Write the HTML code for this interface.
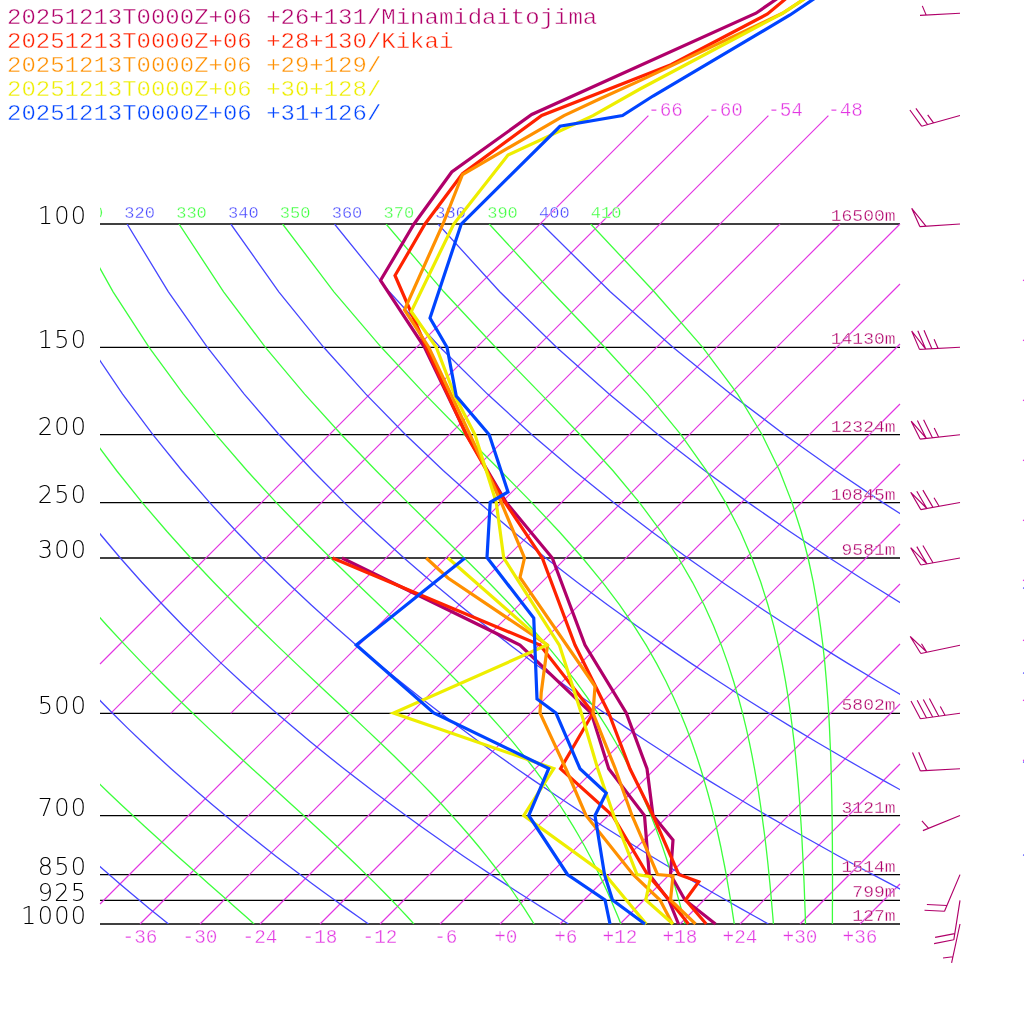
<!DOCTYPE html>
<html><head><meta charset="utf-8"><title>Skew-T</title>
<style>
html,body{margin:0;padding:0;background:#fff;}
svg{display:block}
text{font-family:"Liberation Mono",monospace;}
.lg{font-size:24px;stroke:#fff;stroke-width:0.45px;}
.pl{font-family:"DejaVu Sans Light","DejaVu Sans","Liberation Sans",sans-serif;font-weight:200;font-size:24px;fill:#000;letter-spacing:1.3px}
.tl{font-size:19.4px;fill:#e236e2;stroke:#fff;stroke-width:0.4px;}
.th{font-size:17px;stroke:#fff;stroke-width:0.35px;}
.ht{font-size:18px;fill:#b0006a;stroke:#fff;stroke-width:0.35px;}
</style></head><body>
<svg width="1024" height="1024" viewBox="0 0 1024 1024" style="will-change:transform">
<rect width="1024" height="1024" fill="#fff"/>
<clipPath id="c2"><rect x="100" y="190" width="800" height="40"/></clipPath>
<clipPath id="c"><rect x="100" y="224" width="800" height="700"/></clipPath>
<line x1="100" y1="224.0" x2="900" y2="224.0" stroke="#000" stroke-width="1.3"/>
<line x1="100" y1="347.3" x2="900" y2="347.3" stroke="#000" stroke-width="1.3"/>
<line x1="100" y1="434.7" x2="900" y2="434.7" stroke="#000" stroke-width="1.3"/>
<line x1="100" y1="502.6" x2="900" y2="502.6" stroke="#000" stroke-width="1.3"/>
<line x1="100" y1="558.0" x2="900" y2="558.0" stroke="#000" stroke-width="1.3"/>
<line x1="100" y1="713.3" x2="900" y2="713.3" stroke="#000" stroke-width="1.3"/>
<line x1="100" y1="815.6" x2="900" y2="815.6" stroke="#000" stroke-width="1.3"/>
<line x1="100" y1="874.6" x2="900" y2="874.6" stroke="#000" stroke-width="1.3"/>
<line x1="100" y1="900.3" x2="900" y2="900.3" stroke="#000" stroke-width="1.3"/>
<line x1="100" y1="924.0" x2="900" y2="924.0" stroke="#000" stroke-width="1.3"/>
<path d="M100.0 664.0L648.4 115.6M110.7 713.3L708.4 115.6M170.7 713.3L768.4 115.6M230.7 713.3L828.4 115.6M100.0 904.0L780.0 224.0M140.0 924.0L840.0 224.0M200.0 924.0L900.0 224.0M260.0 924.0L900.0 284.0M320.0 924.0L900.0 344.0M380.0 924.0L900.0 404.0M440.0 924.0L900.0 464.0M500.0 924.0L900.0 524.0M560.0 924.0L900.0 584.0M620.0 924.0L900.0 644.0M680.0 924.0L900.0 704.0M740.0 924.0L900.0 764.0M800.0 924.0L900.0 824.0M860.0 924.0L900.0 884.0" stroke="#e236e2" stroke-width="1.2" fill="none"/>
<path d="M-494.9 224.0L-494.5 291.8L-490.9 347.3L-485.5 394.1L-478.8 434.7L-471.4 470.5L-463.6 502.6L-455.4 531.5L-447.1 558.0L-438.6 582.3L-430.1 604.8L-421.6 625.8L-413.2 645.4L-404.7 663.9L-396.3 681.2L-388.0 697.7L-379.7 713.3L-371.6 728.1L-363.5 742.2L-355.4 755.8L-347.5 768.7L-339.7 781.1L-331.9 793.0L-324.2 804.5L-316.6 815.6L-309.1 826.2L-301.7 836.5L-294.3 846.5L-287.0 856.2L-279.9 865.5L-272.7 874.6L-265.7 883.4L-258.7 892.0L-251.8 900.3L-245.0 908.4L-238.2 916.3L-231.5 924.0M-391.2 224.0L-384.0 291.8L-374.6 347.3L-363.8 394.1L-352.5 434.7L-340.8 470.5L-328.9 502.6L-317.0 531.5L-305.2 558.0L-293.5 582.3L-281.9 604.8L-270.5 625.8L-259.2 645.4L-248.0 663.9L-237.1 681.2L-226.3 697.7L-215.6 713.3L-205.2 728.1L-194.8 742.2L-184.7 755.8L-174.6 768.7L-164.8 781.1L-155.0 793.0L-145.4 804.5L-136.0 815.6L-126.7 826.2L-117.4 836.5L-108.4 846.5L-99.4 856.2L-90.5 865.5L-81.8 874.6L-73.2 883.4L-64.6 892.0L-56.2 900.3L-47.9 908.4L-39.6 916.3L-31.5 924.0M-287.5 224.0L-273.6 291.8L-258.2 347.3L-242.2 394.1L-226.1 434.7L-210.1 470.5L-194.3 502.6L-178.7 531.5L-163.4 558.0L-148.4 582.3L-133.7 604.8L-119.3 625.8L-105.2 645.4L-91.4 663.9L-77.8 681.2L-64.6 697.7L-51.5 713.3L-38.8 728.1L-26.2 742.2L-13.9 755.8L-1.8 768.7L10.1 781.1L21.8 793.0L33.3 804.5L44.7 815.6L55.8 826.2L66.8 836.5L77.6 846.5L88.3 856.2L98.8 865.5L109.1 874.6L119.4 883.4L129.5 892.0L139.4 900.3L149.2 908.4L158.9 916.3L168.5 924.0M-183.9 224.0L-163.1 291.8L-141.8 347.3L-120.6 394.1L-99.8 434.7L-79.4 470.5L-59.6 502.6L-40.3 531.5L-21.6 558.0L-3.3 582.3L14.5 604.8L31.9 625.8L48.8 645.4L65.3 663.9L81.4 681.2L97.2 697.7L112.6 713.3L127.6 728.1L142.4 742.2L156.9 755.8L171.1 768.7L185.0 781.1L198.7 793.0L212.1 804.5L225.3 815.6L238.3 826.2L251.0 836.5L263.6 846.5L275.9 856.2L288.1 865.5L300.1 874.6L311.9 883.4L323.5 892.0L335.0 900.3L346.3 908.4L357.5 916.3L368.5 924.0M-80.2 224.0L-52.6 291.8L-25.4 347.3L1.0 394.1L26.6 434.7L51.2 470.5L75.0 502.6L98.0 531.5L120.3 558.0L141.8 582.3L162.7 604.8L183.0 625.8L202.8 645.4L221.9 663.9L240.6 681.2L258.9 697.7L276.7 713.3L294.1 728.1L311.0 742.2L327.7 755.8L344.0 768.7L359.9 781.1L375.5 793.0L390.9 804.5L405.9 815.6L420.7 826.2L435.3 836.5L449.5 846.5L463.6 856.2L477.4 865.5L491.0 874.6L504.4 883.4L517.6 892.0L530.6 900.3L543.4 908.4L556.1 916.3L568.5 924.0M23.5 224.0L57.9 291.8L91.0 347.3L122.6 394.1L152.9 434.7L181.9 470.5L209.7 502.6L236.4 531.5L262.1 558.0L287.0 582.3L311.0 604.8L334.2 625.8L356.7 645.4L378.6 663.9L399.9 681.2L420.6 697.7L440.8 713.3L460.5 728.1L479.7 742.2L498.5 755.8L516.8 768.7L534.8 781.1L552.4 793.0L569.7 804.5L586.6 815.6L603.2 826.2L619.5 836.5L635.5 846.5L651.3 856.2L666.7 865.5L681.9 874.6L696.9 883.4L711.7 892.0L726.2 900.3L740.5 908.4L754.6 916.3L768.5 924.0M127.1 224.0L168.4 291.8L207.4 347.3L244.2 394.1L279.2 434.7L312.5 470.5L344.3 502.6L374.8 531.5L404.0 558.0L432.1 582.3L459.2 604.8L485.4 625.8L510.7 645.4L535.3 663.9L559.1 681.2L582.3 697.7L604.9 713.3L626.9 728.1L648.3 742.2L669.2 755.8L689.7 768.7L709.7 781.1L729.3 793.0L748.4 804.5L767.2 815.6L785.7 826.2L803.7 836.5L821.5 846.5L838.9 856.2L856.0 865.5L872.9 874.6L889.5 883.4L905.8 892.0L921.8 900.3L937.6 908.4L953.2 916.3L968.5 924.0M230.8 224.0L278.8 291.8L323.7 347.3L365.9 394.1L405.6 434.7L443.2 470.5L479.0 502.6L513.1 531.5L545.8 558.0L577.2 582.3L607.4 604.8L636.5 625.8L664.7 645.4L691.9 663.9L718.4 681.2L744.0 697.7L769.0 713.3L793.3 728.1L816.9 742.2L840.0 755.8L862.6 768.7L884.6 781.1L906.1 793.0L927.2 804.5L947.9 815.6L968.1 826.2L988.0 836.5L1007.4 846.5L1026.6 856.2L1045.4 865.5L1063.8 874.6L1082.0 883.4L1099.8 892.0L1117.4 900.3L1134.7 908.4L1151.7 916.3L1168.5 924.0M334.5 224.0L389.3 291.8L440.1 347.3L487.5 394.1L531.9 434.7L573.9 470.5L613.6 502.6L651.5 531.5L687.7 558.0L722.3 582.3L755.6 604.8L787.7 625.8L818.7 645.4L848.6 663.9L877.6 681.2L905.7 697.7L933.1 713.3L959.7 728.1L985.6 742.2L1010.8 755.8L1035.4 768.7L1059.5 781.1L1083.0 793.0L1106.0 804.5L1128.5 815.6L1150.6 826.2L1172.2 836.5L1193.4 846.5L1214.2 856.2L1234.7 865.5L1254.8 874.6L1274.5 883.4L1293.9 892.0L1313.0 900.3L1331.8 908.4L1350.3 916.3L1368.5 924.0M438.1 224.0L499.8 291.8L556.5 347.3L609.1 394.1L658.3 434.7L704.5 470.5L748.3 502.6L789.8 531.5L829.5 558.0L867.4 582.3L903.8 604.8L938.9 625.8L972.6 645.4L1005.3 663.9L1036.9 681.2L1067.5 697.7L1097.2 713.3L1126.1 728.1L1154.2 742.2L1181.6 755.8L1208.3 768.7L1234.4 781.1L1259.9 793.0L1284.8 804.5L1309.2 815.6L1333.0 826.2L1356.4 836.5L1379.4 846.5L1401.9 856.2L1424.0 865.5L1445.7 874.6L1467.0 883.4L1488.0 892.0L1508.6 900.3L1528.9 908.4L1548.9 916.3L1568.5 924.0M541.8 224.0L610.3 291.8L672.9 347.3L730.7 394.1L784.6 434.7L835.2 470.5L882.9 502.6L928.2 531.5L971.3 558.0L1012.6 582.3L1052.1 604.8L1090.0 625.8L1126.6 645.4L1161.9 663.9L1196.1 681.2L1229.2 697.7L1261.3 713.3L1292.5 728.1L1322.8 742.2L1352.4 755.8L1381.2 768.7L1409.3 781.1L1436.7 793.0L1463.6 804.5L1489.8 815.6L1515.5 826.2L1540.7 836.5L1565.3 846.5L1589.6 856.2L1613.3 865.5L1636.6 874.6L1659.5 883.4L1682.1 892.0L1704.2 900.3L1726.0 908.4L1747.4 916.3L1768.5 924.0" stroke="#4646ff" stroke-width="1.3" fill="none" clip-path="url(#c)"/>
<path d="M-443.0 224.0L-439.3 291.8L-432.7 347.3L-424.6 394.1L-415.6 434.7L-406.1 470.5L-396.2 502.6L-386.2 531.5L-376.2 558.0L-366.1 582.3L-356.0 604.8L-346.1 625.8L-336.2 645.4L-326.4 663.9L-316.7 681.2L-307.1 697.7L-297.7 713.3L-288.4 728.1L-279.2 742.2L-270.1 755.8L-261.1 768.7L-252.2 781.1L-243.5 793.0L-234.8 804.5L-226.3 815.6L-217.9 826.2L-209.6 836.5L-201.4 846.5L-193.3 856.2L-185.2 865.5L-177.3 874.6L-169.5 883.4L-161.8 892.0L-154.1 900.3L-146.6 908.4L-139.1 916.3L-131.7 924.0M-339.4 224.0L-328.8 291.8L-316.4 347.3L-303.0 394.1L-289.3 434.7L-275.4 470.5L-261.6 502.6L-247.9 531.5L-234.3 558.0L-221.0 582.3L-207.8 604.8L-194.9 625.8L-182.2 645.4L-169.7 663.9L-157.5 681.2L-145.4 697.7L-133.6 713.3L-122.0 728.1L-110.6 742.2L-99.3 755.8L-88.3 768.7L-77.4 781.1L-66.7 793.0L-56.2 804.5L-45.9 815.6L-35.7 826.2L-25.7 836.5L-15.8 846.5L-6.1 856.2L3.4 865.5L12.8 874.6L22.1 883.4L31.2 892.0L40.2 900.3L49.0 908.4L57.7 916.3L66.2 924.0M-235.7 224.0L-218.3 291.8L-200.0 347.3L-181.4 394.1L-163.0 434.7L-144.8 470.5L-126.9 502.6L-109.5 531.5L-92.5 558.0L-75.8 582.3L-59.6 604.8L-43.7 625.8L-28.3 645.4L-13.1 663.9L1.7 681.2L16.1 697.7L30.3 713.3L44.1 728.1L57.7 742.2L70.9 755.8L83.9 768.7L96.5 781.1L108.9 793.0L121.0 804.5L132.9 815.6L144.5 826.2L155.8 836.5L166.8 846.5L177.6 856.2L188.1 865.5L198.3 874.6L208.3 883.4L218.0 892.0L227.4 900.3L236.6 908.4L245.5 916.3L254.1 924.0M-132.0 224.0L-107.8 291.8L-83.6 347.3L-59.8 394.1L-36.6 434.7L-14.1 470.5L7.7 502.6L28.8 531.5L49.3 558.0L69.2 582.3L88.5 604.8L107.2 625.8L125.4 645.4L143.0 663.9L160.1 681.2L176.7 697.7L192.8 713.3L208.4 728.1L223.5 742.2L238.1 755.8L252.2 768.7L265.8 781.1L278.9 793.0L291.5 804.5L303.7 815.6L315.3 826.2L326.4 836.5L337.1 846.5L347.3 856.2L357.0 865.5L366.3 874.6L375.2 883.4L383.7 892.0L391.8 900.3L399.5 908.4L406.9 916.3L413.9 924.0M-28.4 224.0L2.6 291.8L32.8 347.3L61.8 394.1L89.7 434.7L116.5 470.5L142.2 502.6L167.0 531.5L190.8 558.0L213.7 582.3L235.7 604.8L256.8 625.8L277.0 645.4L296.4 663.9L314.8 681.2L332.4 697.7L349.1 713.3L364.8 728.1L379.7 742.2L393.8 755.8L406.9 768.7L419.3 781.1L430.9 793.0L441.8 804.5L451.9 815.6L461.4 826.2L470.3 836.5L478.7 846.5L486.5 856.2L493.8 865.5L500.6 874.6L507.1 883.4L513.1 892.0L518.8 900.3L524.2 908.4L529.3 916.3L534.1 924.0M75.3 224.0L113.1 291.8L149.1 347.3L183.4 394.1L215.9 434.7L246.9 470.5L276.3 502.6L304.2 531.5L330.6 558.0L355.5 582.3L379.0 604.8L400.8 625.8L421.1 645.4L439.9 663.9L457.2 681.2L473.1 697.7L487.6 713.3L500.9 728.1L513.0 742.2L524.0 755.8L534.1 768.7L543.3 781.1L551.7 793.0L559.5 804.5L566.6 815.6L573.1 826.2L579.2 836.5L584.8 846.5L590.0 856.2L594.8 865.5L599.3 874.6L603.5 883.4L607.4 892.0L611.1 900.3L614.5 908.4L617.8 916.3L620.9 924.0M179.0 224.0L223.6 291.8L265.4 347.3L304.7 394.1L341.5 434.7L375.9 470.5L407.9 502.6L437.3 531.5L464.2 558.0L488.5 582.3L510.3 604.8L529.7 625.8L546.9 645.4L562.1 663.9L575.5 681.2L587.4 697.7L597.9 713.3L607.3 728.1L615.6 742.2L623.1 755.8L629.8 768.7L635.9 781.1L641.3 793.0L646.3 804.5L650.9 815.6L655.1 826.2L658.9 836.5L662.4 846.5L665.7 856.2L668.7 865.5L671.5 874.6L674.1 883.4L676.6 892.0L678.9 900.3L681.1 908.4L683.1 916.3L685.0 924.0M282.6 224.0L333.9 291.8L381.3 347.3L424.9 394.1L464.6 434.7L500.3 470.5L531.8 502.6L559.1 531.5L582.6 558.0L602.6 582.3L619.6 604.8L634.0 625.8L646.3 645.4L656.8 663.9L665.9 681.2L673.7 697.7L680.5 713.3L686.5 728.1L691.8 742.2L696.5 755.8L700.7 768.7L704.4 781.1L707.8 793.0L710.9 804.5L713.7 815.6L716.2 826.2L718.5 836.5L720.7 846.5L722.6 856.2L724.5 865.5L726.2 874.6L727.7 883.4L729.2 892.0L730.6 900.3L731.9 908.4L733.1 916.3L734.3 924.0M386.1 224.0L443.8 291.8L495.5 347.3L541.1 394.1L580.2 434.7L612.8 470.5L639.5 502.6L661.0 531.5L678.4 558.0L692.5 582.3L704.0 604.8L713.5 625.8L721.4 645.4L728.0 663.9L733.6 681.2L738.4 697.7L742.6 713.3L746.2 728.1L749.3 742.2L752.1 755.8L754.5 768.7L756.7 781.1L758.7 793.0L760.4 804.5L762.0 815.6L763.4 826.2L764.8 836.5L766.0 846.5L767.1 856.2L768.1 865.5L769.0 874.6L769.9 883.4L770.7 892.0L771.4 900.3L772.1 908.4L772.8 916.3L773.4 924.0M489.2 224.0L551.7 291.8L604.7 347.3L647.6 394.1L680.9 434.7L706.4 470.5L725.6 502.6L740.4 531.5L751.8 558.0L760.8 582.3L767.9 604.8L773.7 625.8L778.4 645.4L782.3 663.9L785.5 681.2L788.2 697.7L790.5 713.3L792.4 728.1L794.1 742.2L795.6 755.8L796.8 768.7L797.9 781.1L798.9 793.0L799.8 804.5L800.5 815.6L801.2 826.2L801.8 836.5L802.3 846.5L802.8 856.2L803.3 865.5L803.7 874.6L804.1 883.4L804.4 892.0L804.7 900.3L805.0 908.4L805.3 916.3L805.5 924.0M590.7 224.0L654.2 291.8L702.7 347.3L737.6 394.1L762.1 434.7L779.5 470.5L792.0 502.6L801.2 531.5L808.1 558.0L813.3 582.3L817.3 604.8L820.4 625.8L822.9 645.4L824.9 663.9L826.4 681.2L827.7 697.7L828.7 713.3L829.5 728.1L830.1 742.2L830.7 755.8L831.1 768.7L831.4 781.1L831.7 793.0L831.9 804.5L832.1 815.6L832.2 826.2L832.3 836.5L832.4 846.5L832.4 856.2L832.4 865.5L832.5 874.6L832.5 883.4L832.5 892.0L832.5 900.3L832.4 908.4L832.4 916.3L832.4 924.0" stroke="#3cff3c" stroke-width="1.3" fill="none" clip-path="url(#c)"/>
<text x="87.4" y="224.2" class="pl" text-anchor="end">100</text>
<text x="87.4" y="347.5" class="pl" text-anchor="end">150</text>
<text x="87.4" y="434.9" class="pl" text-anchor="end">200</text>
<text x="87.4" y="502.8" class="pl" text-anchor="end">250</text>
<text x="87.4" y="558.2" class="pl" text-anchor="end">300</text>
<text x="87.4" y="713.5" class="pl" text-anchor="end">500</text>
<text x="87.4" y="815.8" class="pl" text-anchor="end">700</text>
<text x="87.4" y="874.8" class="pl" text-anchor="end">850</text>
<text x="87.4" y="900.5" class="pl" text-anchor="end">925</text>
<text x="87.4" y="924.2" class="pl" text-anchor="end">1000</text>
<text x="140" y="942.5" class="tl" text-anchor="middle" xml:space="preserve">-36</text>
<text x="200" y="942.5" class="tl" text-anchor="middle" xml:space="preserve">-30</text>
<text x="260" y="942.5" class="tl" text-anchor="middle" xml:space="preserve">-24</text>
<text x="320" y="942.5" class="tl" text-anchor="middle" xml:space="preserve">-18</text>
<text x="380" y="942.5" class="tl" text-anchor="middle" xml:space="preserve">-12</text>
<text x="440" y="942.5" class="tl" text-anchor="middle" xml:space="preserve"> -6</text>
<text x="500" y="942.5" class="tl" text-anchor="middle" xml:space="preserve"> +0</text>
<text x="560" y="942.5" class="tl" text-anchor="middle" xml:space="preserve"> +6</text>
<text x="620" y="942.5" class="tl" text-anchor="middle" xml:space="preserve">+12</text>
<text x="680" y="942.5" class="tl" text-anchor="middle" xml:space="preserve">+18</text>
<text x="740" y="942.5" class="tl" text-anchor="middle" xml:space="preserve">+24</text>
<text x="800" y="942.5" class="tl" text-anchor="middle" xml:space="preserve">+30</text>
<text x="860" y="942.5" class="tl" text-anchor="middle" xml:space="preserve">+36</text>
<text x="648" y="116" class="tl">-66</text>
<text x="708" y="116" class="tl">-60</text>
<text x="768" y="116" class="tl">-54</text>
<text x="828" y="116" class="tl">-48</text>
<text x="72.5" y="218" class="th" fill="#3cff3c" clip-path="url(#c2)">310</text>
<text x="124.3" y="218" class="th" fill="#4646ff" clip-path="url(#c2)">320</text>
<text x="176.2" y="218" class="th" fill="#3cff3c" clip-path="url(#c2)">330</text>
<text x="228.0" y="218" class="th" fill="#4646ff" clip-path="url(#c2)">340</text>
<text x="279.8" y="218" class="th" fill="#3cff3c" clip-path="url(#c2)">350</text>
<text x="331.7" y="218" class="th" fill="#4646ff" clip-path="url(#c2)">360</text>
<text x="383.5" y="218" class="th" fill="#3cff3c" clip-path="url(#c2)">370</text>
<text x="435.3" y="218" class="th" fill="#4646ff" clip-path="url(#c2)">380</text>
<text x="487.2" y="218" class="th" fill="#3cff3c" clip-path="url(#c2)">390</text>
<text x="539.0" y="218" class="th" fill="#4646ff" clip-path="url(#c2)">400</text>
<text x="590.8" y="218" class="th" fill="#3cff3c" clip-path="url(#c2)">410</text>
<text transform="translate(895.5,221.0) scale(1,0.91)" class="ht" text-anchor="end">16500m</text>
<text transform="translate(895.5,344.3) scale(1,0.91)" class="ht" text-anchor="end">14130m</text>
<text transform="translate(895.5,431.7) scale(1,0.91)" class="ht" text-anchor="end">12324m</text>
<text transform="translate(895.5,499.6) scale(1,0.91)" class="ht" text-anchor="end">10845m</text>
<text transform="translate(895.5,555.0) scale(1,0.91)" class="ht" text-anchor="end">9581m</text>
<text transform="translate(895.5,710.3) scale(1,0.91)" class="ht" text-anchor="end">5802m</text>
<text transform="translate(895.5,812.6) scale(1,0.91)" class="ht" text-anchor="end">3121m</text>
<text transform="translate(895.5,871.6) scale(1,0.91)" class="ht" text-anchor="end">1514m</text>
<text transform="translate(895.5,897.3) scale(1,0.91)" class="ht" text-anchor="end">799m</text>
<text transform="translate(895.5,921.0) scale(1,0.91)" class="ht" text-anchor="end">127m</text>
<polyline points="794,-13 756,13.2 531.75,114.5 451.75,172 414,224 380.5,280.5 424.5,347.25 466.5,434.75 506.25,502.5 552.3,558 585,645 626.25,713 647,768.75 653,815.5 673,840 670.5,874.5 685,900 715.5,924" stroke="#b0006a" stroke-width="3.2" fill="none" stroke-linejoin="miter" stroke-miterlimit="10"/>
<polyline points="342,558 520,645 591.25,713 608.75,768.75 644.5,815.5 649.25,874.5 668.75,900 678.5,924" stroke="#b0006a" stroke-width="3.2" fill="none" stroke-linejoin="miter" stroke-miterlimit="10"/>
<polyline points="801,-14 767.5,14 671,64.7 541.75,115.5 462.5,173.75 425,224 395,275.5 426.25,347.25 466.25,434.75 505,502.5 542.3,558 575,645 608.75,713 630,768.75 653,815.5 678.75,874.5 698.75,881.75 685.5,900 706.25,924" stroke="#ff2200" stroke-width="3.2" fill="none" stroke-linejoin="miter" stroke-miterlimit="10"/>
<polyline points="332.5,558 540,645 593,713 560.5,768.75 612.5,815.5 647.5,874.5 669.5,900.3 688.5,924" stroke="#ff2200" stroke-width="3.2" fill="none" stroke-linejoin="miter" stroke-miterlimit="10"/>
<polyline points="824,-14 782.5,13.3 640,80.6 600,98.75 564,115.6 462.5,174.5 443,224 404.5,309.75 428.75,347.25 470,434.75 501.25,502.5 524.5,558 520,577.5 595,686.25 593,713 615,768 632,815.5 657.5,874.5 673,876 670.5,900 695.5,924" stroke="#ff9000" stroke-width="3.2" fill="none" stroke-linejoin="miter" stroke-miterlimit="10"/>
<polyline points="426.25,558 448,578 547.5,645 541.25,692.5 540,713 566,769 586,815.5 633,874.5 660,900 672.5,924" stroke="#ff9000" stroke-width="3.2" fill="none" stroke-linejoin="miter" stroke-miterlimit="10"/>
<polyline points="824,-14 782.5,13.3 640,89 593,115.6 508,155 453.75,224 411.25,311.5 436.25,347.25 455,396 475,434.75 496.25,502.5 503.75,558 559.5,645.5 581.25,713 597.5,768 613.75,815.5 637,874.5 650.75,876.75 645.75,900 673,924" stroke="#eeee00" stroke-width="3.2" fill="none" stroke-linejoin="miter" stroke-miterlimit="10"/>
<polyline points="448,558 547,645 393.5,713 553.75,768.5 523.75,815.5 605,874.5 626.25,900 646.25,924" stroke="#eeee00" stroke-width="3.2" fill="none" stroke-linejoin="miter" stroke-miterlimit="10"/>
<polyline points="833,-14 790,15 653,96 622.5,115.5 560,126.25 461.25,224 430,318 447,347.25 456.25,396 489.25,434.75 508,492 490.2,502.3 487,557.5 533.75,618 537,699 556,713 580,768.75 606.25,793 595,815.5 604.5,874.5 612.5,900 645,924" stroke="#0044ff" stroke-width="3.2" fill="none" stroke-linejoin="miter" stroke-miterlimit="10"/>
<polyline points="465,558 356.25,645 433.75,713 548.75,768.5 528.75,815.5 567.5,874.5 605,900 610,924" stroke="#0044ff" stroke-width="3.2" fill="none" stroke-linejoin="miter" stroke-miterlimit="10"/>
<path d="M960.0 13.2L920.0 15.4M926.2 15.1L922.3 5.9M960.0 115.5L921.6 126.2M921.6 126.2L909.9 110.0M927.6 124.6L915.9 108.3M933.5 122.9L927.7 114.8M960.0 224.0L919.8 226.6M919.8 226.6L911.7 208.3L925.9 226.2M960.0 347.2L919.5 349.4M919.5 349.4L911.7 331.0L925.7 349.1M925.7 349.1L917.8 330.7M931.9 348.7L924.0 330.3M938.1 348.4L934.1 339.2M960.0 434.7L920.1 439.1M920.1 439.1L911.2 421.2L926.3 438.4M926.3 438.4L917.4 420.5M932.4 437.7L923.6 419.8M938.6 437.1L934.2 428.1M960.0 502.5L920.8 509.6M920.8 509.6L910.7 492.3L926.9 508.5M926.9 508.5L916.8 491.2M933.0 507.4L922.9 490.1M939.1 506.3L934.0 497.7M960.0 558.0L920.8 565.0M920.8 565.0L910.7 547.7L926.9 563.9M926.9 563.9L916.8 546.6M933.0 562.8L922.9 545.5M960.0 645.3L920.8 653.5M920.8 653.5L910.2 636.5L926.8 652.2M926.8 652.2L921.5 643.7M960.0 713.2L920.4 718.8M920.4 718.8L911.0 701.1M926.5 717.9L917.2 700.2M932.7 717.0L923.3 699.4M938.8 716.2L929.4 698.5M945.0 715.3L940.3 706.5M960.0 768.7L920.4 770.9M920.4 770.9L912.5 752.5M926.6 770.6L918.7 752.2M960.0 815.5L922.9 830.6M928.6 828.3L921.9 820.8M960.0 874.6L944.5 911.2M944.5 911.2L924.5 910.2M946.9 905.5L926.9 904.5M960.0 900.3L953.8 939.8M953.8 939.8L934.1 943.6M954.7 933.6L935.1 937.4M960.0 924.0L951.6 962.8M952.9 956.7L943.0 958.0" stroke="#b0006a" stroke-width="1.15" fill="none" stroke-linejoin="miter"/>
<path d="M1023.1 280.9L1024.5 279.5M1023.1 340.9L1024.5 339.5M1023.1 400.9L1024.5 399.5M1023.1 460.9L1024.5 459.5M1023.1 520.9L1024.5 519.5M1023.1 580.9L1024.5 579.5M1023.1 640.9L1024.5 639.5M1023.1 700.9L1024.5 699.5M1023.1 760.9L1024.5 759.5" stroke="#e236e2" stroke-width="1.2" fill="none"/>
<path d="M1023.1 587.8L1024.5 588.6M1023.1 672.8L1024.5 673.6M1023.1 761.8L1024.5 762.6M1023.1 854.8L1024.5 855.6" stroke="#4646ff" stroke-width="1.2" fill="none"/>

<text transform="translate(7,24.2) scale(1,0.94)" class="lg" fill="#b0006a">20251213T0000Z+06 +26+131/Minamidaitojima</text>
<text transform="translate(7,48.2) scale(1,0.94)" class="lg" fill="#ff2200">20251213T0000Z+06 +28+130/Kikai</text>
<text transform="translate(7,72.2) scale(1,0.94)" class="lg" fill="#ff9000">20251213T0000Z+06 +29+129/</text>
<text transform="translate(7,96.2) scale(1,0.94)" class="lg" fill="#eeee00">20251213T0000Z+06 +30+128/</text>
<text transform="translate(7,120.2) scale(1,0.94)" class="lg" fill="#0044ff">20251213T0000Z+06 +31+126/</text>
</svg>
</body></html>
